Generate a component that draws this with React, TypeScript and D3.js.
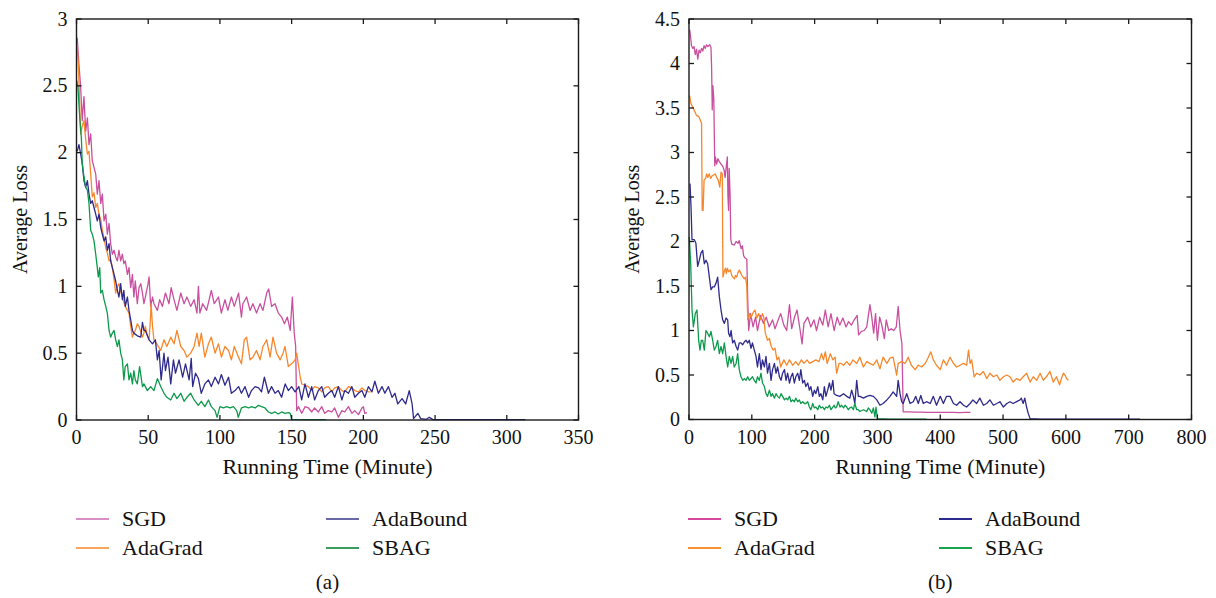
import React from "react";
import * as d3 from "d3";

// ---------- DATA (minutes, average loss) ----------
const seriesNames = ["SGD", "AdaGrad", "AdaBound", "SBAG"];

const xTicksA = [0, 50, 100, 150, 200, 250, 300, 350];
const yTicksA = [0, 0.5, 1, 1.5, 2, 2.5, 3];
const xTicksB = [0, 100, 200, 300, 400, 500, 600, 700, 800];
const yTicksB = [0, 0.5, 1, 1.5, 2, 2.5, 3, 3.5, 4, 4.5];

const sgdA: [number, number][] = [[0.5,2.86],[1.7,2.66],[2.9,2.49],[4,2.24],[5.2,2.42],[6.4,2.16],[7.6,2.26],[8.7,2.06],[9.9,2.14],[11,1.94],[12.2,1.89],[13.4,1.84],[14.5,1.69],[15.7,1.79],[16.9,1.62],[18,1.69],[19.2,1.49],[20.4,1.54],[21.5,1.39],[22.7,1.47],[23.8,1.32],[25,1.24],[26.2,1.27],[27.3,1.22],[28.5,1.19],[29.6,1.27],[30.8,1.19],[32,1.24],[33,1.17],[34,1.19],[35.5,1.09],[36.6,1.14],[37.8,0.99],[39,1.09],[40,0.92],[41,1.04],[42.4,0.87],[43.6,0.99],[44.8,1.02],[46,0.95],[47,0.87],[48,0.92],[49.9,1.02],[50.6,1.07],[51.7,0.85],[53,0.92],[54,0.87],[56.4,0.82],[58,0.9],[59.9,0.85],[62,0.95],[64.5,0.87],[66,0.99],[68,0.9],[70,0.82],[72.7,0.95],[75,0.87],[77,0.92],[79.6,0.85],[82,0.9],[84,0.8],[85,1.0],[86,0.8],[88,0.87],[90.7,0.82],[92.5,0.9],[94,0.97],[96,0.87],[99,0.92],[101,0.8],[103.5,0.9],[105.5,0.82],[108,0.92],[110,0.85],[113,0.95],[115,0.77],[116,0.87],[118.6,0.92],[121,0.82],[123,0.87],[125.5,0.8],[128,0.87],[130,0.82],[132.6,0.95],[134,0.98],[136,0.85],[138.4,0.87],[140.7,0.8],[143,0.77],[145,0.72],[147,0.77],[149,0.67],[150.5,0.92],[151.8,0.65],[152.8,0.55],[153.5,0.07],[154.7,0.1],[157,0.05],[159.4,0.1],[161.7,0.09],[164,0.06],[166,0.09],[168.6,0.06],[171,0.1],[173,0.05],[175.6,0.07],[178,0.06],[180,0.09],[182.6,0.02],[185,0.07],[187,0.06],[189.6,0.1],[192,0.05],[194,0.07],[196.6,0.04],[199,0.09],[200,0.1],[201,0.05],[202.5,0.055]];

const adagradA: [number, number][] = [[0.5,2.81],[1.5,2.6],[2.9,2.14],[4,2.2],[5.2,2.24],[6.4,2.1],[7.6,1.99],[8.7,2.01],[9.9,1.84],[11,1.67],[12.2,1.7],[13.4,1.59],[14.5,1.62],[15.7,1.54],[16.9,1.5],[18,1.42],[19.2,1.36],[20.4,1.29],[21.5,1.25],[22.7,1.19],[23.8,1.2],[25,1.14],[26.2,1.05],[27.3,0.95],[28.5,1.0],[29.6,1.02],[30.8,0.96],[32,0.92],[33,0.88],[34,0.85],[35.5,0.82],[36.6,0.8],[37.8,0.7],[39,0.62],[40,0.65],[41,0.67],[42.4,0.72],[43.6,0.7],[44.8,0.66],[46,0.62],[47,0.65],[48,0.7],[49.4,0.63],[50.6,0.6],[51.5,0.75],[52,0.87],[53,0.7],[54,0.6],[56,0.57],[58.7,0.52],[61,0.6],[63,0.55],[65.7,0.62],[68,0.57],[70,0.67],[72.7,0.55],[75,0.52],[77,0.47],[79.6,0.5],[82,0.55],[84,0.65],[85.5,0.55],[87,0.65],[89.5,0.47],[92,0.57],[94,0.62],[96.6,0.5],[99,0.57],[101,0.47],[103.5,0.55],[106,0.52],[108,0.45],[110,0.55],[113,0.47],[115,0.42],[117,0.6],[118.6,0.62],[121,0.45],[123,0.47],[125.5,0.52],[128,0.45],[130,0.55],[132.6,0.6],[135,0.47],[137,0.62],[139.5,0.5],[142,0.45],[144,0.5],[145.4,0.55],[147.7,0.4],[150,0.42],[152.4,0.45],[153.5,0.5],[156,0.32],[157,0.27],[159.3,0.26],[161.7,0.25],[164,0.22],[166,0.25],[168.6,0.24],[171,0.21],[173,0.24],[175.6,0.25],[178,0.21],[180,0.24],[182.6,0.25],[185,0.22],[187,0.21],[189.6,0.25],[192,0.24],[194,0.22],[196.6,0.21],[199,0.24],[201,0.22],[203.5,0.21],[205,0.21]];

const adaboundA: [number, number][] = [[0.5,2.01],[1.7,2.06],[2.9,1.99],[4,1.92],[5.2,1.79],[6.4,1.74],[7.6,1.79],[8.7,1.69],[9.9,1.62],[11,1.64],[12.2,1.59],[13.4,1.54],[14.5,1.49],[15.7,1.54],[16.9,1.44],[18,1.39],[19.2,1.34],[20.4,1.37],[21.5,1.27],[22.7,1.32],[23.8,1.19],[25,1.14],[26.2,1.09],[27.3,1.04],[28.5,0.97],[29.6,0.92],[30.8,1.02],[32,0.9],[33,0.97],[34,0.85],[35.5,0.92],[36.6,0.82],[37.8,0.75],[39,0.67],[40,0.65],[42.4,0.63],[44.8,0.62],[46,0.73],[47,0.67],[48,0.67],[50.6,0.6],[53,0.57],[55,0.6],[56.4,0.45],[57.6,0.52],[59,0.3],[61,0.5],[62,0.37],[63.8,0.47],[65.7,0.27],[67.6,0.45],[69,0.35],[71.5,0.45],[74,0.32],[76,0.42],[78.5,0.3],[80,0.46],[81,0.25],[83,0.35],[85,0.31],[87,0.2],[89.5,0.27],[92,0.3],[94,0.25],[96.6,0.32],[99,0.27],[101,0.34],[103.5,0.26],[106,0.32],[108,0.2],[110.5,0.22],[113,0.25],[115,0.2],[117.5,0.25],[120,0.17],[122,0.22],[124.5,0.25],[127,0.24],[129,0.21],[131,0.32],[133.8,0.2],[136,0.25],[138.4,0.2],[140.7,0.22],[143,0.17],[145.5,0.27],[147.7,0.22],[150,0.25],[152.4,0.21],[155,0.25],[157,0.15],[159.3,0.27],[161.7,0.17],[164,0.25],[166,0.15],[168.6,0.22],[171,0.25],[173,0.17],[175.6,0.2],[178,0.22],[180,0.17],[182.6,0.25],[185,0.15],[187,0.22],[189.6,0.2],[192,0.25],[194,0.17],[196.6,0.2],[199,0.22],[201,0.17],[203.5,0.25],[206,0.21],[208,0.29],[210.5,0.2],[213,0.25],[215,0.2],[217.5,0.25],[220,0.17],[222,0.2],[224,0.12],[227,0.16],[229.5,0.12],[232,0.22],[234,0.12],[235,0.01],[238,0.05],[240,0.01],[244,0.005],[246,0.02],[248.5,0.003],[260,0.003],[280,0.003],[300,0.003],[313,0.003]];

const sbagA: [number, number][] = [[0.1,2.54],[1,2.49],[2.4,2.24],[3.4,2.11],[4,1.92],[5.2,1.82],[6.4,1.74],[7.6,1.72],[8.7,1.62],[9.9,1.42],[11,1.39],[12.2,1.34],[13.4,1.24],[14.5,1.14],[15.2,1.07],[16.2,1.14],[16.9,0.95],[18,0.97],[19.2,0.9],[20.4,0.85],[21.5,0.8],[22.7,0.67],[23.8,0.62],[25,0.65],[26.2,0.67],[27.3,0.6],[28.5,0.55],[29.6,0.6],[30.8,0.5],[32,0.45],[33,0.3],[34,0.4],[35.5,0.42],[36.6,0.3],[37.8,0.35],[39,0.27],[40,0.37],[41,0.3],[42.4,0.27],[44,0.4],[46,0.25],[47,0.27],[49.4,0.22],[51.7,0.25],[54,0.22],[56.4,0.31],[58.7,0.25],[61,0.2],[63,0.17],[65.7,0.15],[68,0.2],[70,0.16],[72.7,0.2],[75,0.14],[77,0.17],[79.6,0.2],[82,0.15],[84.9,0.11],[87,0.14],[89.5,0.1],[92,0.15],[94,0.1],[96.6,0.07],[98,0.02],[100,0.1],[102.4,0.09],[104.7,0.1],[107,0.09],[109.4,0.1],[111.7,0.07],[112.8,0.02],[115,0.09],[117.5,0.1],[120,0.09],[122,0.1],[124.5,0.09],[126.8,0.11],[129,0.1],[131.4,0.09],[133.8,0.06],[136,0.05],[138.4,0.06],[140.7,0.045],[143,0.06],[145.4,0.05],[147.7,0.055],[149,0.05],[150,0.005],[160,0.003],[174,0.003]];

const sgdB: [number, number][] = [[1,4.38],[2.5,4.3],[4,4.2],[6,4.17],[8,4.19],[10,4.1],[12,4.16],[14,4.05],[16,4.15],[18,4.12],[20,4.17],[22,4.14],[24,4.2],[26,4.17],[28,4.21],[30,4.19],[33,4.21],[35,4.18],[36,3.95],[37,3.48],[38,3.75],[39.5,3.6],[41,2.85],[42,2.95],[44,2.87],[46,2.93],[48,2.9],[50,2.88],[52,2.86],[54,2.84],[56,2.8],[57.5,2.72],[59,2.82],[61,2.95],[62,2.5],[63,2.35],[64,2.82],[65.5,2.5],[66.5,2.03],[68,1.97],[72,1.96],[75,2.0],[78,1.98],[80,2.01],[83,1.92],[85,1.95],[87,1.84],[88.5,1.82],[92,1.8],[93.5,1.35],[95,1.0],[98,1.19],[102,1.04],[106,1.15],[109,1.0],[114,1.17],[118.4,1.08],[123,1.15],[127.7,1.04],[133,1.12],[137,1.02],[141,1.1],[146,1.19],[151,1.06],[155.5,1.0],[160,1.29],[163.5,1.02],[168,1.15],[172,1.23],[177,1.0],[180,0.85],[183,1.08],[189,1.15],[194,1.04],[199,1.12],[203,1.0],[208,1.15],[213,1.06],[217,1.23],[221.5,1.04],[226,1.19],[231,1.0],[236,1.15],[240,1.06],[245,1.14],[250,1.04],[254,1.1],[258.5,1.06],[263,1.12],[267.7,1.17],[270,0.95],[274.5,0.99],[279,1.0],[283,1.04],[288,1.29],[291,1.15],[294,0.97],[297,1.19],[300,0.89],[303.5,1.15],[307,1.06],[311,0.91],[314,1.12],[318,1.0],[322,1.02],[326,1.0],[330,1.04],[333,1.27],[336,1.0],[339,0.85],[341,0.086],[350,0.085],[360,0.083],[370,0.082],[380,0.08],[390,0.081],[400,0.08],[410,0.079],[420,0.08],[430,0.078],[440,0.08],[448,0.079]];

const adagradB: [number, number][] = [[1,3.64],[3,3.55],[8,3.48],[11.6,3.42],[15.9,3.4],[20,3.33],[21,2.35],[22.5,2.35],[24,2.69],[26.5,2.71],[28,2.76],[30,2.72],[32,2.76],[34.5,2.71],[37,2.74],[40,2.75],[42,2.76],[44,2.72],[46.6,2.69],[49,2.61],[51,2.78],[53,2.76],[54,1.6],[56,1.66],[58,1.7],[59.4,1.64],[61,1.7],[63,1.66],[66,1.68],[68,1.62],[70,1.6],[72.4,1.58],[74,1.62],[76,1.6],[78,1.65],[80,1.68],[82,1.65],[84,1.62],[86,1.6],[88,1.58],[90,1.6],[92,1.5],[93.5,1.12],[96,1.19],[99,1.15],[102,1.2],[105,1.23],[108,1.14],[111,1.19],[114,1.12],[117,1.19],[119,1.15],[121.5,0.97],[125,0.89],[128,0.91],[131,0.82],[134,0.78],[137,0.8],[140,0.67],[143,0.7],[146,0.59],[151,0.67],[155.5,0.61],[160,0.67],[165,0.61],[170,0.65],[174,0.61],[179,0.67],[183,0.63],[188,0.67],[192,0.63],[197,0.65],[202,0.67],[207,0.65],[211,0.74],[214,0.67],[217,0.76],[220,0.63],[225,0.74],[229,0.67],[232.6,0.7],[235,0.52],[239,0.63],[242,0.63],[246,0.61],[251,0.65],[256,0.61],[261,0.67],[267,0.63],[272,0.7],[277.6,0.59],[283,0.65],[288,0.63],[293.5,0.61],[299,0.67],[304,0.57],[309,0.7],[315,0.63],[320,0.69],[325,0.7],[330.6,0.5],[333,0.63],[338.6,0.65],[344,0.63],[349,0.7],[354,0.61],[360,0.56],[365,0.61],[370.5,0.59],[376,0.63],[381,0.7],[385,0.76],[389,0.67],[394,0.61],[400,0.56],[405,0.67],[410,0.61],[415.6,0.7],[421,0.63],[426,0.59],[431.5,0.61],[437,0.63],[442,0.61],[445,0.78],[447.5,0.63],[450,0.67],[454,0.48],[458,0.52],[463,0.5],[468.7,0.54],[474,0.46],[479,0.52],[484.6,0.48],[490,0.5],[495,0.44],[500.5,0.48],[506,0.5],[511,0.48],[516,0.42],[521.6,0.46],[527,0.44],[532,0.48],[537.5,0.52],[543,0.42],[548,0.48],[553.5,0.44],[559,0.52],[564,0.44],[569,0.48],[574.7,0.54],[580,0.42],[585,0.48],[590,0.39],[593,0.46],[596,0.52],[598.6,0.5],[601,0.46],[604,0.44]];

const adaboundB: [number, number][] = [[1.6,2.65],[3.2,2.39],[4.8,2.02],[8.5,2.02],[11,1.98],[13.8,1.72],[16.5,1.79],[19,1.87],[21.8,1.9],[24.4,1.75],[27,1.79],[29.7,1.75],[32.4,1.6],[35,1.46],[37.7,1.49],[40.3,1.49],[43,1.53],[45.6,1.6],[48.3,1.38],[51,1.23],[53.6,1.12],[56.3,1.08],[59,1.14],[61.6,1.12],[63,0.97],[65.3,0.93],[67,1.0],[69.5,0.86],[72,0.89],[75,0.82],[77.5,0.78],[80,0.86],[82.8,0.86],[85.5,0.84],[88,0.87],[90.8,0.89],[93.4,0.86],[96,0.89],[98.7,0.8],[101,0.86],[104,0.78],[106.7,0.71],[109,0.59],[112,0.74],[114.6,0.56],[117,0.67],[120,0.59],[122.6,0.71],[125,0.52],[128,0.63],[130.6,0.44],[133,0.56],[136,0.63],[138.5,0.52],[141,0.59],[144,0.48],[146.5,0.44],[149,0.52],[152,0.56],[154.5,0.44],[157,0.52],[160,0.41],[162.4,0.48],[165,0.52],[167.7,0.41],[170,0.48],[173,0.52],[175.7,0.44],[178,0.56],[181,0.41],[183.7,0.44],[186,0.37],[189,0.41],[191.6,0.33],[194,0.37],[197,0.26],[199.6,0.33],[202,0.29],[205,0.37],[207.5,0.26],[210,0.29],[213,0.22],[215.5,0.37],[218,0.26],[220.8,0.33],[223.5,0.41],[226,0.33],[229,0.44],[231,0.29],[235,0.27],[240,0.26],[246,0.29],[251,0.26],[256,0.24],[259,0.33],[261.7,0.26],[264,0.18],[267,0.44],[269.6,0.26],[272,0.26],[277.6,0.24],[283,0.26],[288,0.27],[293.5,0.26],[299,0.22],[304,0.16],[309,0.18],[315,0.22],[320,0.26],[325,0.31],[330.6,0.26],[333,0.44],[336,0.29],[338.6,0.2],[341,0.18],[346.6,0.29],[352,0.18],[357,0.2],[361,0.26],[365,0.18],[369,0.27],[373,0.18],[378,0.2],[384,0.18],[389,0.26],[394,0.16],[400,0.26],[405,0.18],[410,0.26],[415.6,0.26],[421,0.18],[426,0.16],[431.5,0.2],[437,0.16],[442,0.14],[447.5,0.18],[452,0.22],[458,0.18],[463,0.24],[468.7,0.16],[474,0.18],[479,0.22],[484.6,0.16],[490,0.18],[495,0.2],[500.5,0.14],[506,0.18],[511,0.2],[516,0.18],[521.6,0.2],[527,0.22],[529,0.24],[532,0.18],[534.5,0.24],[537.5,0.14],[540,0.07],[543,0.01],[560,0.004],[600,0.004],[650,0.004],[700,0.004],[718,0.004]];

const sbagB: [number, number][] = [[0.5,2.05],[2.7,1.75],[4.8,1.23],[7,1.04],[10,1.19],[12.7,1.23],[15.4,0.89],[17.5,0.78],[19.6,0.89],[21.8,0.89],[24.4,0.78],[27,1.0],[29.7,0.97],[32.4,0.93],[35,0.99],[37.7,0.89],[40.3,0.78],[43,0.82],[45.6,0.89],[48.3,0.74],[51,0.82],[53.6,0.74],[56.3,0.86],[59,0.71],[61.6,0.59],[64.2,0.71],[67,0.63],[69.5,0.71],[72,0.59],[75,0.63],[77.5,0.74],[80,0.56],[82.8,0.48],[85.5,0.44],[88,0.46],[90.8,0.44],[93.4,0.48],[96,0.44],[98.7,0.46],[101,0.48],[104,0.44],[106.7,0.41],[109,0.48],[112,0.44],[114.6,0.52],[117,0.41],[120,0.37],[122.6,0.29],[125,0.26],[128,0.33],[130.6,0.26],[133,0.29],[136,0.24],[138.5,0.29],[141,0.26],[144,0.24],[146.5,0.29],[149,0.26],[152,0.22],[154.5,0.24],[157,0.22],[160,0.26],[162.4,0.2],[165,0.22],[167.7,0.2],[170,0.24],[173,0.2],[175.7,0.22],[178,0.18],[181,0.2],[183.7,0.18],[186,0.18],[189,0.2],[191.6,0.14],[194,0.11],[197,0.18],[199.6,0.13],[202,0.14],[205,0.11],[207.5,0.16],[210,0.13],[213,0.14],[215.5,0.11],[218,0.14],[220.8,0.13],[223.5,0.16],[226,0.11],[229,0.14],[231,0.16],[233,0.13],[235,0.14],[237.5,0.2],[240.4,0.14],[243,0.16],[246,0.13],[248.5,0.16],[251,0.14],[253.5,0.11],[256,0.13],[259,0.14],[261.7,0.11],[264,0.18],[267,0.11],[269.5,0.11],[272,0.09],[277.6,0.11],[283,0.09],[285.5,0.13],[288,0.11],[291,0.07],[293.5,0.13],[296,0.03],[297.7,0.14],[300,0.01],[320,0.004],[350,0.004],[378,0.004]];

const seriesA = [sgdA, adagradA, adaboundA, sbagA];
const seriesB = [sgdB, adagradB, adaboundB, sbagB];

const lineColors = ["#c8509f", "#f7872b", "#2e2a8c", "#0d9a4c"];
const legendColorsA = ["#d98fc4", "#f8a55e", "#6b68a8", "#3a9c5c"];
const legendColorsB = ["#d6489e", "#f79233", "#2c2a8e", "#18a44b"];

const FONT = "Liberation Serif, DejaVu Serif, serif";
const textStyle = { fontFamily: FONT };

type PanelProps = {
  left: number; right: number; top: number; bottom: number;
  xMax: number; yMax: number; xTicks: number[]; yTicks: number[];
  data: [number, number][][]; legendColors: string[];
  legendX: [number, number]; label: string;
};

function Panel(p: PanelProps) {
  const x = d3.scaleLinear().domain([0, p.xMax]).range([p.left, p.right]);
  const y = d3.scaleLinear().domain([0, p.yMax]).range([p.bottom, p.top]);
  const line = d3.line<[number, number]>().x(d => x(d[0])).y(d => y(d[1]));
  const tl = 5;
  const cx = (p.left + p.right) / 2;
  const cy = (p.top + p.bottom) / 2;
  const legendRows = [519, 548];
  return (
    <g>
      {p.data.map((s, i) => (
        <path key={i} d={line(s) || ""} fill="none" stroke={lineColors[i]} strokeWidth={1.3} strokeLinejoin="round" />
      ))}
      <rect x={p.left} y={p.top} width={p.right - p.left} height={p.bottom - p.top} fill="none" stroke="#1a1a1a" strokeWidth={1.4} />
      {p.xTicks.map(t => (
        <g key={"x" + t}>
          <line x1={x(t)} x2={x(t)} y1={p.bottom} y2={p.bottom - tl} stroke="#1a1a1a" strokeWidth={1.3} />
          <line x1={x(t)} x2={x(t)} y1={p.top} y2={p.top + tl} stroke="#1a1a1a" strokeWidth={1.3} />
          <text x={x(t)} y={p.bottom + 24} textAnchor="middle" fontSize={20} style={textStyle} fill="#111">{String(t)}</text>
        </g>
      ))}
      {p.yTicks.map(t => (
        <g key={"y" + t}>
          <line x1={p.left} x2={p.left + tl} y1={y(t)} y2={y(t)} stroke="#1a1a1a" strokeWidth={1.3} />
          <line x1={p.right} x2={p.right - tl} y1={y(t)} y2={y(t)} stroke="#1a1a1a" strokeWidth={1.3} />
          <text x={p.left - 9} y={y(t) + 6.5} textAnchor="end" fontSize={20} style={textStyle} fill="#111">{String(t)}</text>
        </g>
      ))}
      <text transform={`translate(${p.left - 50},${cy}) rotate(-90)`} textAnchor="middle" fontSize={20} style={textStyle} fill="#111">Average Loss</text>
      <text x={cx} y={474} textAnchor="middle" fontSize={22} style={textStyle} fill="#111">Running Time (Minute)</text>
      {seriesNames.map((n, i) => {
        const col = i < 2 ? 0 : 1;
        const row = i % 2;
        const lx = p.legendX[col];
        const ly = legendRows[row];
        return (
          <g key={n}>
            <line x1={lx} x2={lx + 33} y1={ly} y2={ly} stroke={p.legendColors[i]} strokeWidth={2} />
            <text x={lx + 46} y={ly + 7} fontSize={22} style={textStyle} fill="#111">{n}</text>
          </g>
        );
      })}
      <text x={cx} y={589} textAnchor="middle" fontSize={21} style={textStyle} fill="#111">{p.label}</text>
    </g>
  );
}

export default function App() {
  return (
    <svg width={1216} height={598} style={{ position: "absolute", left: 0, top: 0, background: "#fff" }}>
      <rect x={0} y={0} width={1216} height={598} fill="#fff" />
      <Panel left={76.5} right={578.5} top={19} bottom={420} xMax={350} yMax={3}
        xTicks={xTicksA} yTicks={yTicksA} data={seriesA} legendColors={legendColorsA}
        legendX={[76, 326]} label="(a)" />
      <Panel left={689} right={1191.5} top={19} bottom={419.5} xMax={800} yMax={4.5}
        xTicks={xTicksB} yTicks={yTicksB} data={seriesB} legendColors={legendColorsB}
        legendX={[688, 939]} label="(b)" />
    </svg>
  );
}
